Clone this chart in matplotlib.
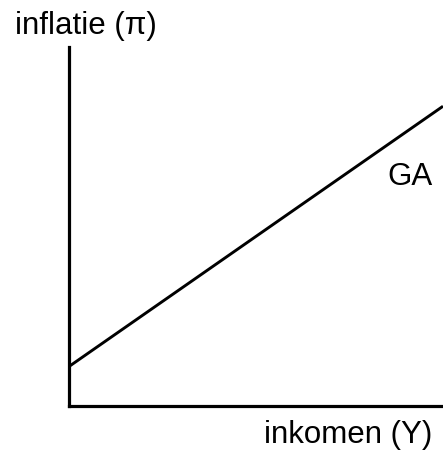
import matplotlib
matplotlib.use("Agg")
import matplotlib.pyplot as plt

# data
income = [0, 10]
inflation = [1.1, 8.35]
curve_label = "GA"
x_label = "inkomen (Y)"
y_label = "inflatie (π)"

plt.rcParams['font.family'] = ['Liberation Sans', 'DejaVu Sans']

fig = plt.figure(figsize=(4.43, 4.56), dpi=100)
W, H = 443, 456
ax = fig.add_axes([69 / W, 1 - 407 / H, (W - 69) / W, (407 - 48) / H])
ax.plot(income, inflation, color='black', lw=2.1, solid_capstyle='butt', clip_on=False)
ax.set_xlim(0, 10)
ax.set_ylim(0, 10)
for s in ['top', 'right']:
    ax.spines[s].set_visible(False)
for s in ['left', 'bottom']:
    ax.spines[s].set_linewidth(2.3)
ax.set_xticks([])
ax.set_yticks([])

fs = 22.5
fig.text(410 / W, 1 - 185 / H, curve_label, fontsize=fs, ha='center', va='baseline')
fig.text(348 / W, 1 - 443 / H, x_label, fontsize=fs, ha='center', va='baseline')
fig.text(86 / W, 1 - 34 / H, y_label, fontsize=fs, ha='center', va='baseline')

fig.savefig("out.png", dpi=100)
